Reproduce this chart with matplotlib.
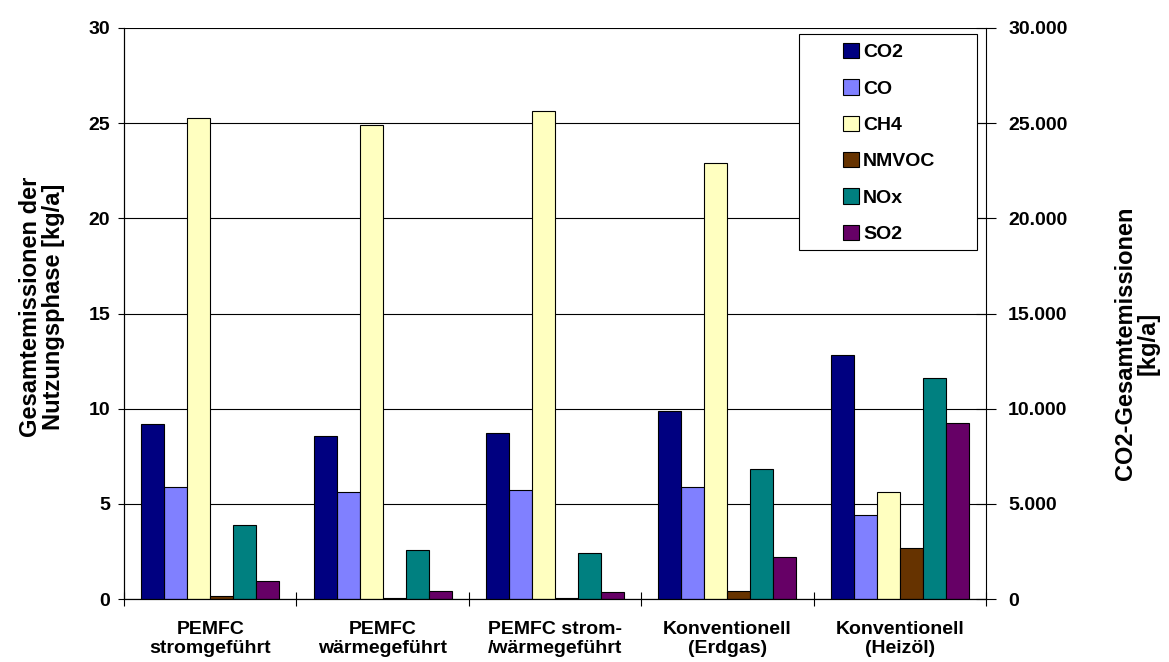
import numpy as np
import matplotlib
matplotlib.use("Agg")
import matplotlib.pyplot as plt
from matplotlib.patches import Patch, Rectangle

plt.rcParams["font.family"] = ["Liberation Sans", "DejaVu Sans"]
plt.rcParams["font.weight"] = "bold"

categories = ["PEMFC\nstromgeführt", "PEMFC\nwärmegeführt", "PEMFC strom-\n/wärmegeführt",
              "Konventionell\n(Erdgas)", "Konventionell\n(Heizöl)"]
co2 = [9200, 8570, 8700, 9880, 12830]          # right axis
co = [5.9, 5.63, 5.75, 5.9, 4.43]
ch4 = [25.25, 24.9, 25.65, 22.93, 5.6]
nmvoc = [0.15, 0.07, 0.04, 0.4, 2.7]
nox = [3.88, 2.6, 2.42, 6.83, 11.63]
so2 = [0.93, 0.43, 0.35, 2.22, 9.25]

names = ["CO2", "CO", "CH4", "NMVOC", "NOx", "SO2"]
colors = ["#000080", "#8080FF", "#FFFFC0", "#663300", "#008080", "#660066"]

W, H = 1169, 662
fig = plt.figure(figsize=(W / 100, H / 100), dpi=100)
ax = fig.add_axes([124 / W, 1 - 599 / H, (986 - 124) / W, (599 - 28) / H])
ax2 = ax.twinx()

x = np.arange(len(categories))
w = 0.8 / 6
offsets = (np.arange(6) - 2.5) * w

ax.set_axisbelow(True)
ax.yaxis.grid(True, color="black", linewidth=0.8)

ax2.bar(x + offsets[0], co2, w, color=colors[0], edgecolor="black", linewidth=0.8)
left_series = [co, ch4, nmvoc, nox, so2]
for i, vals in enumerate(left_series):
    ax.bar(x + offsets[i + 1], vals, w, color=colors[i + 1], edgecolor="black", linewidth=0.8)

ax.set_xlim(-0.5, len(categories) - 0.5)
ax.set_ylim(0, 30)
ax2.set_ylim(0, 30000)
ax.set_yticks(range(0, 31, 5))
ax2.set_yticks(range(0, 30001, 5000))
ax2.set_yticklabels(["0" if v == 0 else f"{v // 1000}.000" for v in range(0, 30001, 5000)])

ax.set_xticks(x)
ax.set_xticklabels(categories, fontsize=14, fontweight="bold", linespacing=1.1)
ax.set_xticks(np.arange(len(categories) + 1) - 0.5, minor=True)
ax.tick_params(axis="x", which="major", length=0, pad=16)
ax.tick_params(axis="x", which="minor", length=10, direction="inout", width=0.8)
ax.tick_params(axis="y", labelsize=14, direction="out", length=4, width=0.8, pad=6)
ax2.tick_params(axis="y", labelsize=14, direction="inout", length=14, width=0.8, pad=9)

for a in (ax, ax2):
    a.spines["top"].set_visible(False)
    for s in ("left", "right", "bottom"):
        a.spines[s].set_linewidth(0.8)
ax.spines["right"].set_visible(False)

ax.set_ylabel("Gesamtemissionen der\nNutzungsphase [kg/a]", fontsize=17, fontweight="bold",
              linespacing=1.0)
ax.yaxis.set_label_coords(-0.0684, 0.511)
ax2.set_ylabel("CO2-Gesamtemissionen\n[kg/a]", fontsize=17, fontweight="bold",
               linespacing=1.0)
ax2.yaxis.set_label_coords(1.1485, 0.448)

# legend box (Excel style: white box with entries centred inside)
box = Rectangle((799 / W, 1 - 250 / H), 178 / W, 216 / H, transform=fig.transFigure,
                facecolor="white", edgecolor="black", linewidth=0.8, zorder=4, clip_on=False)
ax2.add_patch(box)
handles = [Patch(facecolor=c, edgecolor="black", linewidth=0.8) for c in colors]
leg = ax2.legend(handles, names, loc="center", bbox_to_anchor=(889 / W, 1 - 143 / H),
                 bbox_transform=fig.transFigure, frameon=False,
                 prop={"weight": "bold", "size": 14},
                 handlelength=0.85, handleheight=0.85, handletextpad=0.2,
                 labelspacing=0.92, borderpad=0, borderaxespad=0)
leg.set_zorder(6)

fig.savefig("out.png", dpi=100)
